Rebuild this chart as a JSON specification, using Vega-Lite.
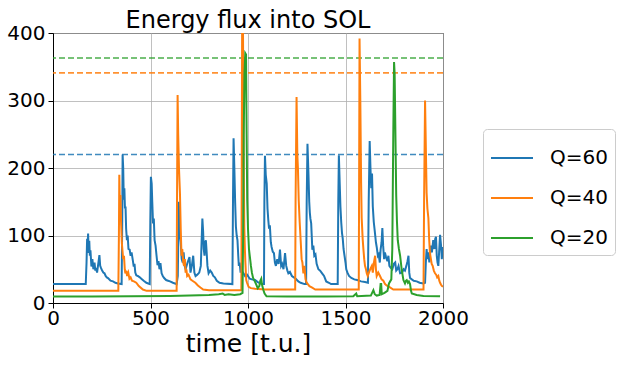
{
  "$schema": "https://vega.github.io/schema/vega-lite/v6.json",
  "width": 390,
  "height": 270,
  "autosize": "none",
  "padding": {"left": 53, "top": 33, "right": 175, "bottom": 62},
  "background": "white",
  "title": {"text": "Energy flux into SOL", "fontSize": 24, "font": "DejaVu Sans", "fontWeight": "normal", "color": "black", "offset": -10},
  "config": {
    "view": {"stroke": "black", "strokeWidth": 1},
    "axis": {
      "labelFont": "DejaVu Sans", "labelFontSize": 20, "labelColor": "black",
      "titleFont": "DejaVu Sans", "titleColor": "black", "titleFontWeight": "normal",
      "tickColor": "black", "tickSize": 5, "domainColor": "black",
      "gridColor": "#b0b0b0", "gridWidth": 0.8, "labelFlush": false, "labelOverlap": false
    }
  },
  "datasets": {
    "thr": [
      {"s": "Q=60", "v": 220},
      {"s": "Q=40", "v": 341},
      {"s": "Q=20", "v": 363}
    ],
    "flux": [
      {"s":"Q=60","t":0,"v":28},{"s":"Q=60","t":168,"v":28},{"s":"Q=60","t":172,"v":60},{"s":"Q=60","t":175,"v":95},{"s":"Q=60","t":178,"v":85},{"s":"Q=60","t":180,"v":103},{"s":"Q=60","t":183,"v":74},{"s":"Q=60","t":186,"v":92},{"s":"Q=60","t":189,"v":70},{"s":"Q=60","t":192,"v":78},{"s":"Q=60","t":197,"v":54},{"s":"Q=60","t":202,"v":65},{"s":"Q=60","t":207,"v":50},{"s":"Q=60","t":213,"v":60},{"s":"Q=60","t":217,"v":48},{"s":"Q=60","t":220,"v":52},{"s":"Q=60","t":226,"v":45},{"s":"Q=60","t":232,"v":58},{"s":"Q=60","t":238,"v":71},{"s":"Q=60","t":242,"v":55},{"s":"Q=60","t":246,"v":52},{"s":"Q=60","t":252,"v":48},{"s":"Q=60","t":258,"v":45},{"s":"Q=60","t":264,"v":44},{"s":"Q=60","t":270,"v":40},{"s":"Q=60","t":276,"v":38},{"s":"Q=60","t":282,"v":37},{"s":"Q=60","t":295,"v":33},{"s":"Q=60","t":308,"v":32},{"s":"Q=60","t":320,"v":30},{"s":"Q=60","t":333,"v":29},{"s":"Q=60","t":352,"v":28},
      {"s":"Q=60","t":355,"v":120},{"s":"Q=60","t":357,"v":220},{"s":"Q=60","t":360,"v":200},{"s":"Q=60","t":363,"v":153},{"s":"Q=60","t":366,"v":170},{"s":"Q=60","t":369,"v":140},{"s":"Q=60","t":372,"v":143},{"s":"Q=60","t":375,"v":110},{"s":"Q=60","t":379,"v":93},{"s":"Q=60","t":383,"v":100},{"s":"Q=60","t":387,"v":80},{"s":"Q=60","t":393,"v":79},{"s":"Q=60","t":398,"v":70},{"s":"Q=60","t":403,"v":75},{"s":"Q=60","t":410,"v":62},{"s":"Q=60","t":414,"v":54},{"s":"Q=60","t":418,"v":58},{"s":"Q=60","t":422,"v":45},{"s":"Q=60","t":427,"v":41},{"s":"Q=60","t":435,"v":40},{"s":"Q=60","t":445,"v":38},{"s":"Q=60","t":453,"v":36},{"s":"Q=60","t":465,"v":33},{"s":"Q=60","t":479,"v":30},{"s":"Q=60","t":496,"v":28},
      {"s":"Q=60","t":499,"v":120},{"s":"Q=60","t":502,"v":187},{"s":"Q=60","t":506,"v":177},{"s":"Q=60","t":509,"v":150},{"s":"Q=60","t":513,"v":118},{"s":"Q=60","t":517,"v":125},{"s":"Q=60","t":521,"v":93},{"s":"Q=60","t":526,"v":85},{"s":"Q=60","t":531,"v":70},{"s":"Q=60","t":536,"v":56},{"s":"Q=60","t":541,"v":62},{"s":"Q=60","t":546,"v":50},{"s":"Q=60","t":551,"v":59},{"s":"Q=60","t":557,"v":44},{"s":"Q=60","t":563,"v":40},{"s":"Q=60","t":570,"v":37},{"s":"Q=60","t":580,"v":34},{"s":"Q=60","t":590,"v":33},{"s":"Q=60","t":600,"v":32},{"s":"Q=60","t":615,"v":30},{"s":"Q=60","t":634,"v":28},
      {"s":"Q=60","t":640,"v":40},{"s":"Q=60","t":645,"v":150},{"s":"Q=60","t":648,"v":130},{"s":"Q=60","t":651,"v":100},{"s":"Q=60","t":655,"v":90},{"s":"Q=60","t":660,"v":65},{"s":"Q=60","t":665,"v":60},{"s":"Q=60","t":670,"v":75},{"s":"Q=60","t":675,"v":55},{"s":"Q=60","t":680,"v":50},{"s":"Q=60","t":690,"v":60},{"s":"Q=60","t":700,"v":68},{"s":"Q=60","t":705,"v":45},{"s":"Q=60","t":712,"v":55},{"s":"Q=60","t":719,"v":70},{"s":"Q=60","t":725,"v":45},{"s":"Q=60","t":731,"v":40},{"s":"Q=60","t":740,"v":42},{"s":"Q=60","t":750,"v":45},{"s":"Q=60","t":758,"v":55},{"s":"Q=60","t":762,"v":90},{"s":"Q=60","t":766,"v":125},{"s":"Q=60","t":770,"v":105},{"s":"Q=60","t":773,"v":80},{"s":"Q=60","t":777,"v":70},{"s":"Q=60","t":781,"v":90},{"s":"Q=60","t":784,"v":93},{"s":"Q=60","t":788,"v":75},{"s":"Q=60","t":792,"v":55},{"s":"Q=60","t":798,"v":44},{"s":"Q=60","t":806,"v":48},{"s":"Q=60","t":814,"v":45},{"s":"Q=60","t":822,"v":40},{"s":"Q=60","t":830,"v":38},{"s":"Q=60","t":840,"v":33},{"s":"Q=60","t":854,"v":30},{"s":"Q=60","t":874,"v":29},{"s":"Q=60","t":920,"v":28},
      {"s":"Q=60","t":923,"v":150},{"s":"Q=60","t":926,"v":244},{"s":"Q=60","t":930,"v":200},{"s":"Q=60","t":934,"v":150},{"s":"Q=60","t":938,"v":113},{"s":"Q=60","t":942,"v":100},{"s":"Q=60","t":946,"v":93},{"s":"Q=60","t":950,"v":70},{"s":"Q=60","t":953,"v":55},{"s":"Q=60","t":957,"v":60},{"s":"Q=60","t":962,"v":45},{"s":"Q=60","t":966,"v":50},{"s":"Q=60","t":970,"v":44},{"s":"Q=60","t":975,"v":45},{"s":"Q=60","t":985,"v":40},{"s":"Q=60","t":995,"v":42},{"s":"Q=60","t":1009,"v":36},{"s":"Q=60","t":1020,"v":35},{"s":"Q=60","t":1036,"v":34},{"s":"Q=60","t":1050,"v":31},{"s":"Q=60","t":1070,"v":28},{"s":"Q=60","t":1082,"v":28},
      {"s":"Q=60","t":1084,"v":150},{"s":"Q=60","t":1087,"v":218},{"s":"Q=60","t":1091,"v":190},{"s":"Q=60","t":1096,"v":177},{"s":"Q=60","t":1100,"v":140},{"s":"Q=60","t":1104,"v":123},{"s":"Q=60","t":1108,"v":110},{"s":"Q=60","t":1112,"v":115},{"s":"Q=60","t":1117,"v":90},{"s":"Q=60","t":1121,"v":83},{"s":"Q=60","t":1127,"v":76},{"s":"Q=60","t":1133,"v":74},{"s":"Q=60","t":1138,"v":60},{"s":"Q=60","t":1143,"v":55},{"s":"Q=60","t":1150,"v":65},{"s":"Q=60","t":1157,"v":58},{"s":"Q=60","t":1164,"v":79},{"s":"Q=60","t":1170,"v":55},{"s":"Q=60","t":1175,"v":58},{"s":"Q=60","t":1182,"v":50},{"s":"Q=60","t":1190,"v":74},{"s":"Q=60","t":1196,"v":55},{"s":"Q=60","t":1202,"v":48},{"s":"Q=60","t":1207,"v":44},{"s":"Q=60","t":1215,"v":46},{"s":"Q=60","t":1225,"v":40},{"s":"Q=60","t":1235,"v":38},{"s":"Q=60","t":1245,"v":36},{"s":"Q=60","t":1258,"v":32},{"s":"Q=60","t":1270,"v":30},{"s":"Q=60","t":1290,"v":28},{"s":"Q=60","t":1298,"v":28},
      {"s":"Q=60","t":1301,"v":150},{"s":"Q=60","t":1305,"v":236},{"s":"Q=60","t":1310,"v":192},{"s":"Q=60","t":1314,"v":150},{"s":"Q=60","t":1317,"v":134},{"s":"Q=60","t":1320,"v":125},{"s":"Q=60","t":1324,"v":118},{"s":"Q=60","t":1330,"v":79},{"s":"Q=60","t":1335,"v":85},{"s":"Q=60","t":1340,"v":70},{"s":"Q=60","t":1346,"v":72},{"s":"Q=60","t":1352,"v":58},{"s":"Q=60","t":1361,"v":50},{"s":"Q=60","t":1370,"v":48},{"s":"Q=60","t":1380,"v":44},{"s":"Q=60","t":1390,"v":40},{"s":"Q=60","t":1401,"v":32},{"s":"Q=60","t":1415,"v":30},{"s":"Q=60","t":1426,"v":28},{"s":"Q=60","t":1460,"v":28},
      {"s":"Q=60","t":1463,"v":150},{"s":"Q=60","t":1466,"v":219},{"s":"Q=60","t":1470,"v":180},{"s":"Q=60","t":1474,"v":143},{"s":"Q=60","t":1478,"v":120},{"s":"Q=60","t":1482,"v":104},{"s":"Q=60","t":1486,"v":95},{"s":"Q=60","t":1490,"v":80},{"s":"Q=60","t":1495,"v":70},{"s":"Q=60","t":1500,"v":60},{"s":"Q=60","t":1504,"v":50},{"s":"Q=60","t":1510,"v":45},{"s":"Q=60","t":1518,"v":40},{"s":"Q=60","t":1530,"v":37},{"s":"Q=60","t":1545,"v":35},{"s":"Q=60","t":1560,"v":34},{"s":"Q=60","t":1580,"v":32},{"s":"Q=60","t":1600,"v":31},{"s":"Q=60","t":1615,"v":30},
      {"s":"Q=60","t":1619,"v":150},{"s":"Q=60","t":1624,"v":240},{"s":"Q=60","t":1628,"v":200},{"s":"Q=60","t":1632,"v":170},{"s":"Q=60","t":1636,"v":192},{"s":"Q=60","t":1640,"v":143},{"s":"Q=60","t":1645,"v":120},{"s":"Q=60","t":1651,"v":104},{"s":"Q=60","t":1656,"v":90},{"s":"Q=60","t":1660,"v":83},{"s":"Q=60","t":1666,"v":70},{"s":"Q=60","t":1670,"v":72},{"s":"Q=60","t":1676,"v":60},{"s":"Q=60","t":1680,"v":79},{"s":"Q=60","t":1685,"v":90},{"s":"Q=60","t":1689,"v":111},{"s":"Q=60","t":1693,"v":85},{"s":"Q=60","t":1698,"v":65},{"s":"Q=60","t":1702,"v":75},{"s":"Q=60","t":1708,"v":68},{"s":"Q=60","t":1715,"v":62},{"s":"Q=60","t":1720,"v":70},{"s":"Q=60","t":1725,"v":55},{"s":"Q=60","t":1732,"v":52},{"s":"Q=60","t":1740,"v":50},{"s":"Q=60","t":1748,"v":58},{"s":"Q=60","t":1755,"v":60},{"s":"Q=60","t":1760,"v":48},{"s":"Q=60","t":1766,"v":50},{"s":"Q=60","t":1772,"v":55},{"s":"Q=60","t":1780,"v":44},{"s":"Q=60","t":1790,"v":45},{"s":"Q=60","t":1798,"v":50},{"s":"Q=60","t":1805,"v":48},{"s":"Q=60","t":1812,"v":55},{"s":"Q=60","t":1818,"v":62},{"s":"Q=60","t":1823,"v":70},{"s":"Q=60","t":1827,"v":45},{"s":"Q=60","t":1831,"v":37},{"s":"Q=60","t":1840,"v":35},{"s":"Q=60","t":1850,"v":33},{"s":"Q=60","t":1865,"v":32},{"s":"Q=60","t":1880,"v":30},{"s":"Q=60","t":1899,"v":29},{"s":"Q=60","t":1908,"v":30},
      {"s":"Q=60","t":1912,"v":60},{"s":"Q=60","t":1916,"v":80},{"s":"Q=60","t":1920,"v":65},{"s":"Q=60","t":1925,"v":75},{"s":"Q=60","t":1930,"v":60},{"s":"Q=60","t":1933,"v":70},{"s":"Q=60","t":1938,"v":85},{"s":"Q=60","t":1943,"v":75},{"s":"Q=60","t":1950,"v":93},{"s":"Q=60","t":1956,"v":80},{"s":"Q=60","t":1960,"v":95},{"s":"Q=60","t":1964,"v":98},{"s":"Q=60","t":1968,"v":70},{"s":"Q=60","t":1972,"v":60},{"s":"Q=60","t":1976,"v":55},{"s":"Q=60","t":1980,"v":75},{"s":"Q=60","t":1985,"v":101},{"s":"Q=60","t":1990,"v":85},{"s":"Q=60","t":1994,"v":65},{"s":"Q=60","t":1999,"v":83},{"s":"Q=60","t":2000,"v":80},

      {"s":"Q=40","t":0,"v":18},{"s":"Q=40","t":335,"v":18},{"s":"Q=40","t":338,"v":100},{"s":"Q=40","t":340,"v":190},{"s":"Q=40","t":343,"v":143},{"s":"Q=40","t":346,"v":160},{"s":"Q=40","t":349,"v":120},{"s":"Q=40","t":353,"v":89},{"s":"Q=40","t":357,"v":75},{"s":"Q=40","t":360,"v":65},{"s":"Q=40","t":364,"v":70},{"s":"Q=40","t":368,"v":50},{"s":"Q=40","t":371,"v":44},{"s":"Q=40","t":376,"v":48},{"s":"Q=40","t":380,"v":40},{"s":"Q=40","t":386,"v":45},{"s":"Q=40","t":392,"v":36},{"s":"Q=40","t":398,"v":38},{"s":"Q=40","t":405,"v":33},{"s":"Q=40","t":415,"v":32},{"s":"Q=40","t":427,"v":30},{"s":"Q=40","t":440,"v":25},{"s":"Q=40","t":461,"v":20},{"s":"Q=40","t":480,"v":18},{"s":"Q=40","t":634,"v":18},
      {"s":"Q=40","t":636,"v":150},{"s":"Q=40","t":639,"v":308},{"s":"Q=40","t":642,"v":250},{"s":"Q=40","t":646,"v":200},{"s":"Q=40","t":651,"v":163},{"s":"Q=40","t":655,"v":110},{"s":"Q=40","t":659,"v":70},{"s":"Q=40","t":663,"v":80},{"s":"Q=40","t":668,"v":60},{"s":"Q=40","t":672,"v":55},{"s":"Q=40","t":676,"v":65},{"s":"Q=40","t":680,"v":45},{"s":"Q=40","t":684,"v":50},{"s":"Q=40","t":688,"v":40},{"s":"Q=40","t":695,"v":42},{"s":"Q=40","t":705,"v":35},{"s":"Q=40","t":715,"v":33},{"s":"Q=40","t":730,"v":30},{"s":"Q=40","t":743,"v":26},{"s":"Q=40","t":756,"v":23},{"s":"Q=40","t":770,"v":20},{"s":"Q=40","t":800,"v":19},{"s":"Q=40","t":966,"v":19},
      {"s":"Q=40","t":968,"v":200},{"s":"Q=40","t":970,"v":420},{"s":"Q=40","t":974,"v":420},{"s":"Q=40","t":977,"v":250},{"s":"Q=40","t":981,"v":113},{"s":"Q=40","t":984,"v":80},{"s":"Q=40","t":986,"v":64},{"s":"Q=40","t":989,"v":45},{"s":"Q=40","t":991,"v":34},{"s":"Q=40","t":995,"v":30},{"s":"Q=40","t":1003,"v":24},{"s":"Q=40","t":1015,"v":22},{"s":"Q=40","t":1036,"v":21},{"s":"Q=40","t":1089,"v":20},{"s":"Q=40","t":1242,"v":20},
      {"s":"Q=40","t":1244,"v":150},{"s":"Q=40","t":1249,"v":305},{"s":"Q=40","t":1253,"v":220},{"s":"Q=40","t":1256,"v":200},{"s":"Q=40","t":1260,"v":153},{"s":"Q=40","t":1265,"v":120},{"s":"Q=40","t":1270,"v":93},{"s":"Q=40","t":1275,"v":65},{"s":"Q=40","t":1279,"v":60},{"s":"Q=40","t":1284,"v":44},{"s":"Q=40","t":1289,"v":55},{"s":"Q=40","t":1295,"v":35},{"s":"Q=40","t":1301,"v":30},{"s":"Q=40","t":1315,"v":25},{"s":"Q=40","t":1327,"v":23},{"s":"Q=40","t":1345,"v":20},{"s":"Q=40","t":1568,"v":20},
      {"s":"Q=40","t":1570,"v":200},{"s":"Q=40","t":1572,"v":392},{"s":"Q=40","t":1576,"v":300},{"s":"Q=40","t":1580,"v":180},{"s":"Q=40","t":1583,"v":126},{"s":"Q=40","t":1588,"v":95},{"s":"Q=40","t":1592,"v":79},{"s":"Q=40","t":1596,"v":65},{"s":"Q=40","t":1600,"v":55},{"s":"Q=40","t":1605,"v":50},{"s":"Q=40","t":1609,"v":44},{"s":"Q=40","t":1614,"v":40},{"s":"Q=40","t":1620,"v":45},{"s":"Q=40","t":1627,"v":50},{"s":"Q=40","t":1635,"v":55},{"s":"Q=40","t":1640,"v":45},{"s":"Q=40","t":1646,"v":60},{"s":"Q=40","t":1652,"v":70},{"s":"Q=40","t":1656,"v":50},{"s":"Q=40","t":1660,"v":40},{"s":"Q=40","t":1668,"v":45},{"s":"Q=40","t":1677,"v":40},{"s":"Q=40","t":1685,"v":35},{"s":"Q=40","t":1694,"v":33},{"s":"Q=40","t":1703,"v":28},{"s":"Q=40","t":1711,"v":26},{"s":"Q=40","t":1728,"v":23},{"s":"Q=40","t":1745,"v":20},{"s":"Q=40","t":1900,"v":20},
      {"s":"Q=40","t":1903,"v":150},{"s":"Q=40","t":1908,"v":300},{"s":"Q=40","t":1912,"v":230},{"s":"Q=40","t":1916,"v":163},{"s":"Q=40","t":1920,"v":140},{"s":"Q=40","t":1925,"v":126},{"s":"Q=40","t":1929,"v":95},{"s":"Q=40","t":1933,"v":74},{"s":"Q=40","t":1938,"v":65},{"s":"Q=40","t":1942,"v":58},{"s":"Q=40","t":1947,"v":55},{"s":"Q=40","t":1953,"v":48},{"s":"Q=40","t":1959,"v":44},{"s":"Q=40","t":1965,"v":42},{"s":"Q=40","t":1970,"v":38},{"s":"Q=40","t":1976,"v":40},{"s":"Q=40","t":1981,"v":33},{"s":"Q=40","t":1985,"v":30},{"s":"Q=40","t":1990,"v":27},{"s":"Q=40","t":1995,"v":25},{"s":"Q=40","t":2000,"v":24},

      {"s":"Q=20","t":0,"v":9.5},{"s":"Q=20","t":200,"v":9.8},{"s":"Q=20","t":400,"v":10},{"s":"Q=20","t":600,"v":10.5},{"s":"Q=20","t":700,"v":11},{"s":"Q=20","t":800,"v":12},{"s":"Q=20","t":850,"v":13},{"s":"Q=20","t":870,"v":14},{"s":"Q=20","t":880,"v":12},{"s":"Q=20","t":900,"v":13},{"s":"Q=20","t":930,"v":12},{"s":"Q=20","t":960,"v":13},{"s":"Q=20","t":972,"v":15},
      {"s":"Q=20","t":975,"v":100},{"s":"Q=20","t":978,"v":250},{"s":"Q=20","t":982,"v":340},{"s":"Q=20","t":986,"v":370},{"s":"Q=20","t":990,"v":368},{"s":"Q=20","t":993,"v":250},{"s":"Q=20","t":996,"v":153},{"s":"Q=20","t":1000,"v":110},{"s":"Q=20","t":1005,"v":80},{"s":"Q=20","t":1009,"v":70},{"s":"Q=20","t":1015,"v":55},{"s":"Q=20","t":1020,"v":45},{"s":"Q=20","t":1026,"v":37},{"s":"Q=20","t":1035,"v":32},{"s":"Q=20","t":1043,"v":27},{"s":"Q=20","t":1050,"v":22},{"s":"Q=20","t":1058,"v":25},{"s":"Q=20","t":1063,"v":33},{"s":"Q=20","t":1068,"v":36},{"s":"Q=20","t":1072,"v":27},{"s":"Q=20","t":1078,"v":20},{"s":"Q=20","t":1085,"v":14},{"s":"Q=20","t":1095,"v":10},{"s":"Q=20","t":1200,"v":9.5},{"s":"Q=20","t":1400,"v":9.5},{"s":"Q=20","t":1540,"v":10},{"s":"Q=20","t":1555,"v":14},{"s":"Q=20","t":1560,"v":10},{"s":"Q=20","t":1630,"v":11},{"s":"Q=20","t":1643,"v":19},{"s":"Q=20","t":1650,"v":13},{"s":"Q=20","t":1660,"v":11},{"s":"Q=20","t":1675,"v":12},{"s":"Q=20","t":1680,"v":28},{"s":"Q=20","t":1683,"v":28},{"s":"Q=20","t":1686,"v":13},{"s":"Q=20","t":1700,"v":15},{"s":"Q=20","t":1715,"v":18},{"s":"Q=20","t":1723,"v":29},{"s":"Q=20","t":1735,"v":35},{"s":"Q=20","t":1740,"v":80},{"s":"Q=20","t":1745,"v":250},{"s":"Q=20","t":1749,"v":357},{"s":"Q=20","t":1752,"v":340},{"s":"Q=20","t":1756,"v":250},{"s":"Q=20","t":1760,"v":160},{"s":"Q=20","t":1764,"v":120},{"s":"Q=20","t":1768,"v":93},{"s":"Q=20","t":1774,"v":80},{"s":"Q=20","t":1780,"v":70},{"s":"Q=20","t":1788,"v":50},{"s":"Q=20","t":1797,"v":34},{"s":"Q=20","t":1805,"v":29},{"s":"Q=20","t":1810,"v":33},{"s":"Q=20","t":1814,"v":34},{"s":"Q=20","t":1820,"v":30},{"s":"Q=20","t":1825,"v":32},{"s":"Q=20","t":1831,"v":28},{"s":"Q=20","t":1836,"v":18},{"s":"Q=20","t":1840,"v":14},{"s":"Q=20","t":1865,"v":12},{"s":"Q=20","t":1900,"v":10.5},{"s":"Q=20","t":1985,"v":10}
    ]
  },
  "layer": [
    {
      "data": {"name": "thr"},
      "mark": {"type": "rule", "strokeDash": [6, 3], "strokeWidth": 1.6, "opacity": 0.85},
      "encoding": {
        "y": {"field": "v", "type": "quantitative", "scale": {"domain": [0, 400], "nice": false}},
        "color": {"field": "s", "type": "nominal", "scale": {"domain": ["Q=60", "Q=40", "Q=20"], "range": ["#1f77b4", "#ff7f0e", "#2ca02c"]}, "legend": null}
      }
    },
    {
      "data": {"name": "flux"},
      "mark": {"type": "line", "strokeWidth": 2, "clip": true},
      "encoding": {
        "x": {"field": "t", "type": "quantitative", "scale": {"domain": [0, 2000], "nice": false},
              "axis": {"values": [0, 500, 1000, 1500, 2000], "format": "d", "title": "time [t.u.]", "titleFontSize": 25, "titlePadding": 3, "labelPadding": 0, "grid": true}},
        "y": {"field": "v", "type": "quantitative", "scale": {"domain": [0, 400], "nice": false},
              "axis": {"values": [0, 100, 200, 300, 400], "format": "d", "title": null, "labelPadding": 3, "grid": true}},
        "color": {"field": "s", "type": "nominal", "sort": ["Q=60", "Q=40", "Q=20"],
                  "scale": {"domain": ["Q=60", "Q=40", "Q=20"], "range": ["#1f77b4", "#ff7f0e", "#2ca02c"]},
                  "legend": {"orient": "none", "legendX": 430, "legendY": 96, "title": null,
                             "labelFontSize": 20, "labelFont": "DejaVu Sans", "labelColor": "black",
                             "symbolType": "stroke", "symbolSize": 1764, "symbolStrokeWidth": 2,
                             "strokeColor": "#cccccc", "fillColor": "white", "cornerRadius": 4,
                             "padding": 7, "rowPadding": 8, "labelOffset": 16}}
      }
    }
  ],
  "resolve": {"legend": {"color": "independent"}}
}
